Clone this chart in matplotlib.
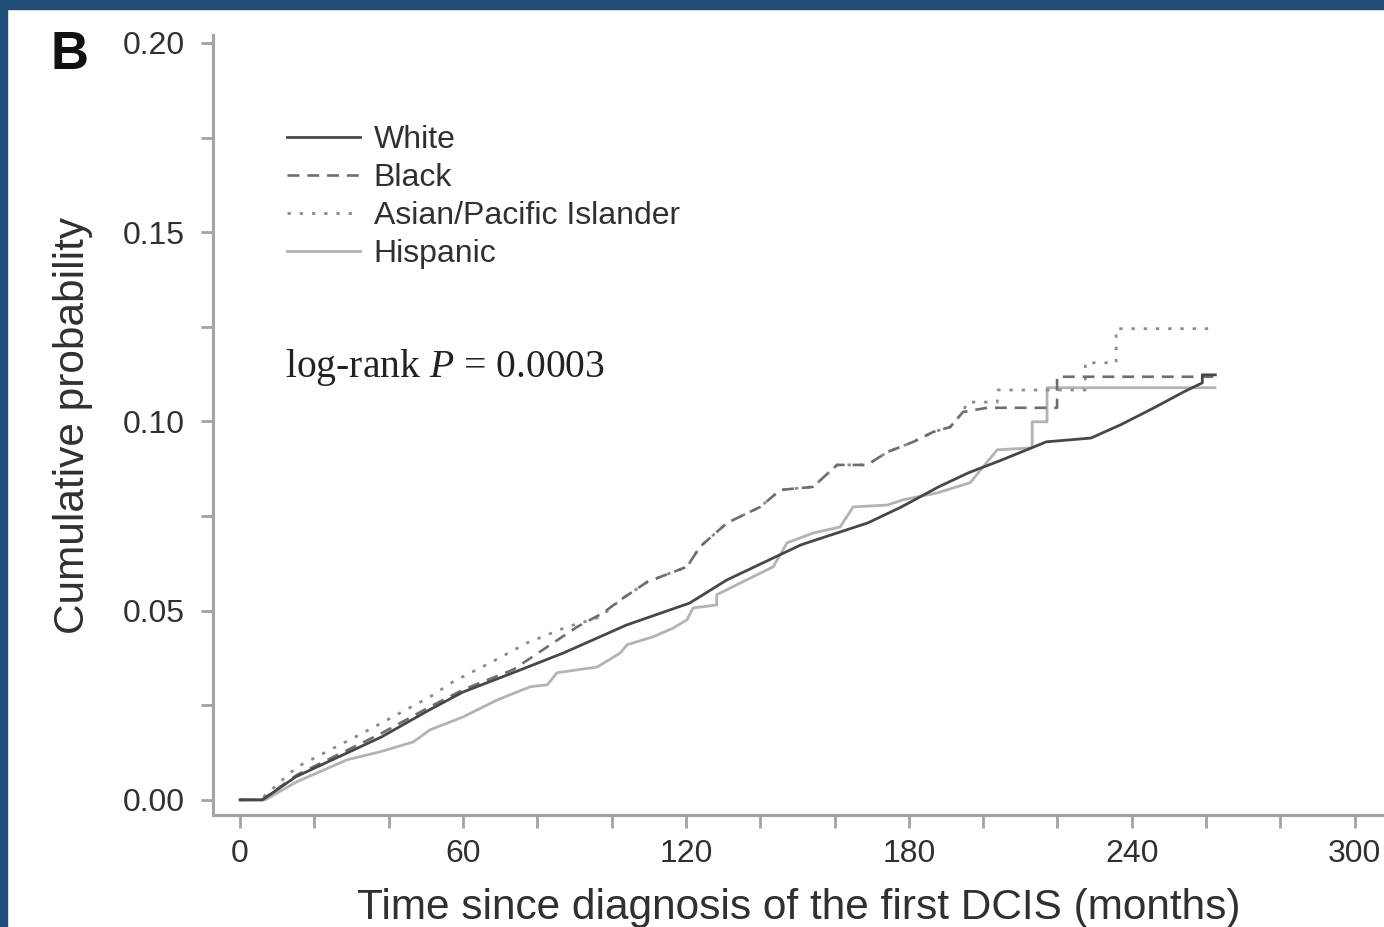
import matplotlib
matplotlib.use('Agg')
import matplotlib.pyplot as plt
from matplotlib.patches import Rectangle
from matplotlib.ticker import MultipleLocator, FormatStrFormatter

plt.rcParams['font.family'] = ['Liberation Sans', 'DejaVu Sans']
plt.rcParams['mathtext.fontset'] = 'custom'
plt.rcParams['mathtext.rm'] = 'Liberation Serif'
plt.rcParams['mathtext.it'] = 'Liberation Serif:italic'

# Cumulative probability curves, months since first DCIS diagnosis
white_t = [0, 6, 15, 38, 51, 60, 73.5, 87, 104, 121, 131, 151, 169, 178, 188, 196,
           205, 213, 217, 229, 237, 246, 254, 259, 259, 262.5]
white_p = [0, 0, 0.0061, 0.0166, 0.0238, 0.0285, 0.0336, 0.0388, 0.0462, 0.0520,
           0.0581, 0.0674, 0.0732, 0.0774, 0.0827, 0.0864, 0.0898, 0.0930, 0.0946,
           0.0956, 0.0991, 0.1036, 0.1078, 0.1102, 0.1123, 0.1123]

black_t = [0, 5.9, 15.3, 37.7, 51.1, 60.0, 73.5, 84.3, 90.7, 97.7, 102.3, 109.6, 120.3,
           123.8, 131.1, 140.0, 145.4, 154.2, 160.7, 168.8, 174.2, 181.2, 186.5, 191.1,
           194.6, 201.1, 219.9, 219.9, 262.4]
black_p = [0, 0, 0.0066, 0.0174, 0.0246, 0.0291, 0.0344, 0.0415, 0.0457, 0.0494, 0.0528,
           0.0576, 0.0616, 0.0669, 0.0732, 0.0774, 0.0819, 0.0827, 0.0885, 0.0885, 0.0919,
           0.0946, 0.0972, 0.0985, 0.1025, 0.1036, 0.1036, 0.1118, 0.1118]

asian_t = [0, 5.4, 15.3, 33.1, 51.1, 57.3, 67.3, 77.3, 88.0, 96.9, 102.3, 109.6, 120.3,
           123.8, 131.1, 140.0, 145.4, 154.2, 160.7, 168.8, 174.2, 181.2, 186.5, 191.1,
           194.6, 195.7, 203.8, 204.0, 227.5, 227.5, 235.8, 235.8, 262.4]
asian_p = [0, 0, 0.0087, 0.0177, 0.0272, 0.0312, 0.0362, 0.0415, 0.0457, 0.0483, 0.0528,
           0.0576, 0.0616, 0.0669, 0.0732, 0.0774, 0.0819, 0.0827, 0.0885, 0.0885, 0.0919,
           0.0946, 0.0972, 0.0985, 0.1025, 0.1051, 0.1051, 0.1083, 0.1083, 0.1155, 0.1155,
           0.1245, 0.1245]

hisp_t = [0, 6.7, 15.3, 28.8, 37.7, 46.6, 51.1, 60.0, 69.2, 78.1, 82.7, 85.3, 96.1, 102.3,
          104.2, 111.2, 116.6, 120.3, 121.9, 128.3, 128.3, 143.5, 147.2, 154.2, 161.5,
          165.0, 174.2, 178.5, 187.6, 196.5, 203.8, 213.2, 213.2, 217.2, 217.2, 262.4]
hisp_p = [0, 0, 0.0048, 0.0106, 0.0127, 0.0153, 0.0185, 0.0219, 0.0264, 0.0299, 0.0304,
          0.0336, 0.0351, 0.0388, 0.0410, 0.0431, 0.0454, 0.0476, 0.0507, 0.0515, 0.0542,
          0.0616, 0.0679, 0.0705, 0.0721, 0.0774, 0.0779, 0.0793, 0.0811, 0.0838, 0.0925,
          0.0930, 0.0999, 0.0999, 0.1089, 0.1089]

axis_grey = '#a3a3a3'
text_col = '#303030'

fig = plt.figure(figsize=(13.84, 9.27), dpi=100)
ax = fig.add_axes([213 / 1384, 112 / 927, 1171 / 1384, 780 / 927])

# lightest curves first so the White line sits on top
ax.plot(hisp_t, hisp_p, color='#b3b3b3', lw=2.0, label='Hispanic')
ax.plot(asian_t, asian_p, color='#8c8c8c', lw=2.0, dashes=(1.2, 3.2), label='Asian/Pacific Islander')
ax.plot(black_t, black_p, color='#6e6e6e', lw=1.9, dashes=(4.5, 3), label='Black')
ax.plot(white_t, white_p, color='#474747', lw=2.0, label='White')

ax.set_xlim(-7.3, 307.9)
ax.set_ylim(-0.004, 0.2021)

ax.xaxis.set_major_locator(MultipleLocator(60))
ax.xaxis.set_minor_locator(MultipleLocator(20))
ax.yaxis.set_major_locator(MultipleLocator(0.05))
ax.yaxis.set_minor_locator(MultipleLocator(0.025))
ax.yaxis.set_major_formatter(FormatStrFormatter('%.2f'))

for side in ['top', 'right']:
    ax.spines[side].set_visible(False)
for side in ['left', 'bottom']:
    ax.spines[side].set_color(axis_grey)
    ax.spines[side].set_linewidth(2.2)

ax.tick_params(which='both', direction='out', length=9, width=2, color=axis_grey,
               labelsize=23, labelcolor=text_col)
ax.tick_params(axis='x', which='both', pad=8)
ax.tick_params(axis='y', which='both', pad=11)

ax.set_xlabel('Time since diagnosis of the first DCIS (months)', fontsize=30.5,
              color=text_col, labelpad=14)
ax.set_ylabel('Cumulative probability', fontsize=30.5, color=text_col, labelpad=22)

handles, labels = ax.get_legend_handles_labels()
order = [3, 2, 1, 0]
ax.legend([handles[i] for i in order], [labels[i] for i in order],
          loc='upper left', bbox_to_anchor=(0.063, 0.884), frameon=False,
          fontsize=23, handlelength=2.3, handletextpad=0.42, labelspacing=0.25,
          borderpad=0, borderaxespad=0, labelcolor=text_col)

ax.text(0.0615, 0.574, 'log-rank $P$ = 0.0003', transform=ax.transAxes,
        fontsize=28.5, family='Liberation Serif', color='#222222', va='center', ha='left')

fig.text(70 / 1384, 1 - 55 / 927, 'B', fontsize=38, fontweight='bold', color='#111111',
         ha='center', va='center')

# frame band along the top and left edges
fig.patches.append(Rectangle((0, 1 - 9 / 927), 1, 9 / 927, transform=fig.transFigure,
                             color='#1f4e79', zorder=10))
fig.patches.append(Rectangle((0, 0), 7 / 1384, 1, transform=fig.transFigure,
                             color='#1f4e79', zorder=10))

fig.savefig('out.png', dpi=100)
